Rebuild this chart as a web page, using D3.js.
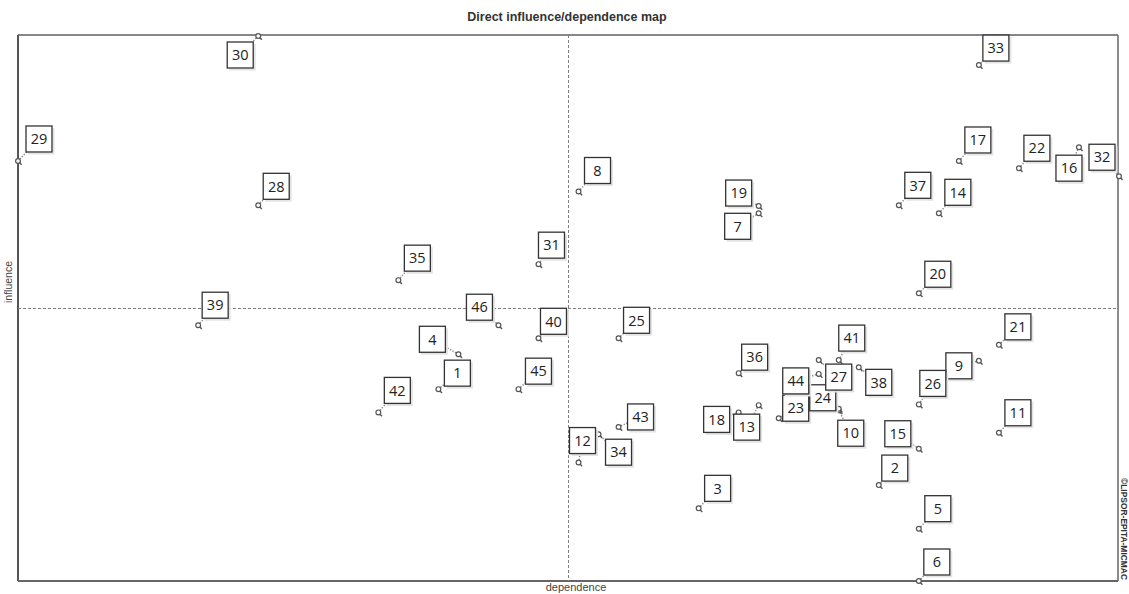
<!DOCTYPE html>
<html>
<head>
<meta charset="utf-8">
<title>Direct influence/dependence map</title>
<script src="https://d3js.org/d3.v7.min.js"></script>
<style>
  html, body { margin: 0; padding: 0; background: #fff; }
  .mean { stroke: #808080; stroke-width: 1px; stroke-dasharray: 3 2; fill: none; }
  .leader { stroke: #8c8c8c; stroke-width: 1.5px; stroke-dasharray: 1.3 1.5; fill: none; }
  .marker circle { fill: #fff; stroke: #555; stroke-width: 1.2px; }
  .marker line { stroke: #555; stroke-width: 1.4px; }
  .box rect { fill: #fff; stroke: #333; stroke-width: 1.3px; }
  .box .shadow { fill: none; stroke: #e4e4e4; stroke-width: 2px; }
  .box text { font-family: "Open Sans", "Noto Sans", sans-serif; font-size: 14.5px; fill: #222; }
</style>
</head>
<body>
<script>
// variable numbers and their direct dependence / influence
let ids        = [1, 2, 3, 4, 5, 6, 7, 8, 9, 10, 11, 12, 13, 14, 15, 16, 17, 18, 19, 20, 21, 22, 23,
                  24, 25, 26, 27, 28, 29, 30, 31, 32, 33, 34, 35, 36, 37, 38, 39, 40, 41, 42, 43, 44, 45, 46];
let dependence = [21, 43, 34, 22, 45, 45, 37, 28, 48, 41, 49, 28, 37, 46, 45, 53, 47, 36, 37, 45, 49, 50, 38,
                  41, 30, 45, 40, 12, 0, 12, 26, 55, 48, 29, 19, 36, 44, 42, 9, 26, 41, 18, 30, 40, 25, 24];
let influence  = [26.4, 13.2, 10.0, 31.2, 7.2, 0, 50.6, 53.6, 30.3, 23.5, 20.4, 16.3, 24.2, 50.6, 18.2, 59.7,
                  57.8, 23.2, 51.6, 39.6, 32.5, 56.8, 22.4, 23.7, 33.4, 24.3, 30.4, 51.7, 57.8, 75, 43.6, 55.7,
                  71, 20.2, 41.4, 28.6, 51.7, 29.4, 35.2, 33.4, 30.4, 23.2, 21.2, 28.5, 26.4, 35.2];

// where each label box sits relative to its point (pixels)
let labelDx = [19, 16, 19, -26, 19, 18, -21, 19, -20, 12, 19, 4, -12, 19, -21, -10, 19, -22, -20, 19, 19, 18, 17,
               -16, 18, 14, 20, 18, 21, -18, 13, -17, 17, 20, 19, 16, 19, 20, 17, 15, 13, 19, 22, -23, 20, -19];
let labelDy = [-16, -17, -20, -15, -20, -19, 13, -21, 5, 23, -20, -22, 22, -21, -15, 21, -21, 7, -13, -19, -18, -20, -10,
               -11, -18, -21, 17, -19, -22, 19, -19, -19, -17, 18, -22, -16, -20, 15, -20, -17, -22, -22, -10, 7, -18, -18];

let W = 1129, H = 594;
let pLeft = 18, pRight = 1118, pTop = 35, pBottom = 581;

let svg = d3.select("body").append("svg")
  .attr("width", W)
  .attr("height", H)
  .style("display", "block");

let x = d3.scaleLinear().domain(d3.extent(dependence)).range([pLeft, pRight + 1]);
let y = d3.scaleLinear().domain(d3.extent(influence)).range([pBottom, pTop + 1]);

let pts = ids.map(function(id, i) {
  return { id: id, d: dependence[i], m: influence[i], dx: labelDx[i], dy: labelDy[i] };
});

// title
svg.append("text")
  .attr("x", 567).attr("y", 21)
  .attr("text-anchor", "middle")
  .style("font-family", "'Liberation Sans', Arial, sans-serif")
  .style("font-weight", "bold")
  .style("font-size", "12.5px")
  .style("fill", "#333")
  .text("Direct influence/dependence map");

// frame
svg.append("line").attr("x1", pLeft).attr("x2", pRight).attr("y1", pTop).attr("y2", pTop)
  .style("stroke", "#111").style("stroke-width", 1.2);
svg.append("line").attr("x1", pRight).attr("x2", pRight).attr("y1", pTop).attr("y2", pBottom)
  .style("stroke", "#666").style("stroke-width", 1.5);
svg.append("line").attr("x1", pLeft).attr("x2", pLeft).attr("y1", pTop).attr("y2", pBottom)
  .style("stroke", "#555").style("stroke-width", 2);
svg.append("line").attr("x1", pLeft).attr("x2", pRight).attr("y1", pBottom).attr("y2", pBottom)
  .style("stroke", "#666").style("stroke-width", 2);

// dashed lines through the middle of both axes
let xMid = d3.mean(x.domain()), yMid = d3.mean(y.domain());
svg.append("line").attr("class", "mean")
  .attr("x1", x(xMid)).attr("x2", x(xMid)).attr("y1", pTop).attr("y2", pBottom);
svg.append("line").attr("class", "mean")
  .attr("x1", pLeft).attr("x2", pRight).attr("y1", y(yMid)).attr("y2", y(yMid));

// axis names
svg.append("text")
  .attr("x", 576).attr("y", 591)
  .attr("text-anchor", "middle")
  .style("font-family", "'Liberation Sans', Arial, sans-serif")
  .style("font-size", "11px")
  .style("fill", "#444")
  .text("dependence");

svg.append("text")
  .attr("transform", "translate(12,282) rotate(-90)")
  .attr("text-anchor", "middle")
  .style("font-family", "'Liberation Sans', Arial, sans-serif")
  .style("font-size", "10.5px")
  .style("fill", "#444")
  .text("influence");

svg.append("text")
  .attr("transform", "translate(1121,529) rotate(90)")
  .attr("text-anchor", "middle")
  .attr("textLength", 102)
  .attr("lengthAdjust", "spacingAndGlyphs")
  .style("font-family", "'Liberation Sans', Arial, sans-serif")
  .style("font-weight", "bold")
  .style("font-size", "8.5px")
  .style("fill", "#333")
  .text("©LIPSOR-EPITA-MICMAC");

// leaders
svg.append("g").selectAll("line")
  .data(pts)
  .enter().append("line")
  .attr("class", "leader")
  .attr("x1", function(d) { return x(d.d); })
  .attr("y1", function(d) { return y(d.m); })
  .attr("x2", function(d) { return x(d.d) + d.dx; })
  .attr("y2", function(d) { return y(d.m) + d.dy; });

// point markers
let mk = svg.append("g").selectAll("g")
  .data(pts)
  .enter().append("g")
  .attr("class", "marker")
  .attr("transform", function(d) { return "translate(" + x(d.d) + "," + y(d.m) + ")"; });
mk.append("line").attr("x1", 1.5).attr("y1", 1.5).attr("x2", 3.6).attr("y2", 3.8);
mk.append("circle").attr("r", 2.4);

// label boxes
let bw = 26, bh = 26;
let box = svg.append("g").selectAll("g")
  .data(pts)
  .enter().append("g")
  .attr("class", "box")
  .attr("transform", function(d) {
    return "translate(" + (x(d.d) + d.dx) + "," + (y(d.m) + d.dy) + ")";
  });
box.append("path")
  .attr("class", "shadow")
  .attr("d", "M" + (-bw / 2 + 2) + "," + (bh / 2 + 1.5) + "H" + (bw / 2 + 1.5) + "V" + (-bh / 2 + 2));
box.append("rect")
  .attr("x", -bw / 2).attr("y", -bh / 2)
  .attr("width", bw).attr("height", bh);
box.append("text")
  .attr("text-anchor", "middle")
  .attr("dy", "0.36em")
  .text(function(d) { return d.id; });
</script>
</body>
</html>
